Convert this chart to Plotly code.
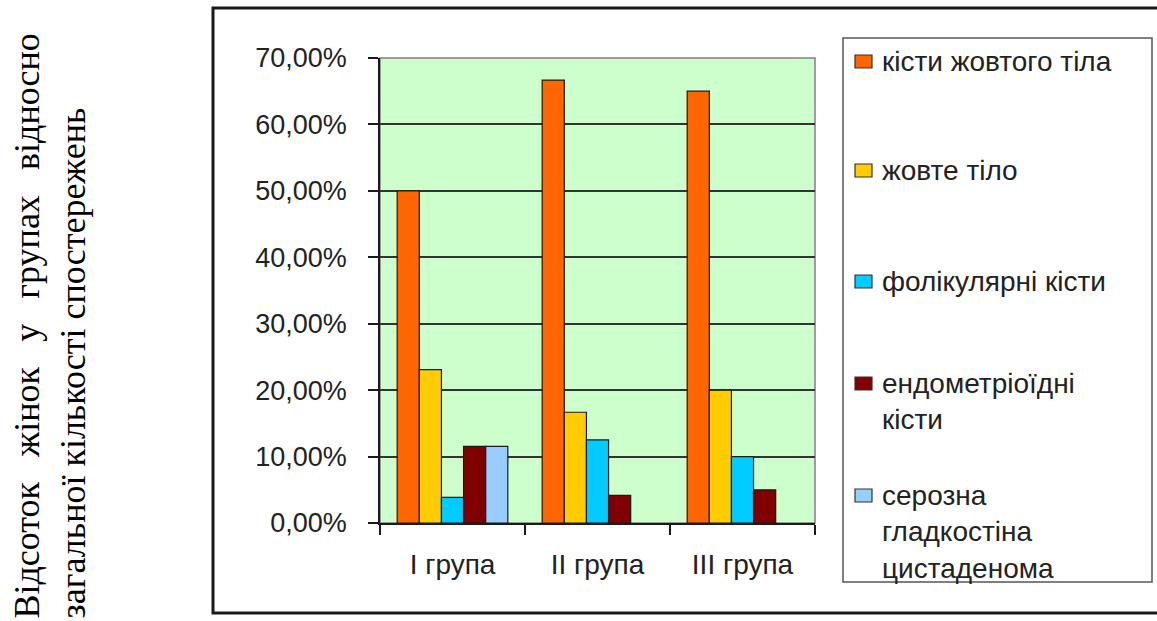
import plotly.graph_objects as go

# Groups on the category axis
groups = ["I група", "II група", "III група"]

# Series names (legend text) and bar colours
series_names = [
    "кісти жовтого тіла",
    "жовте тіло",
    "фолікулярні кісти",
    "ендометріоїдні<br>кісти",
    "серозна<br>гладкостіна<br>цистаденома",
]
series_colors = ["#FF6600", "#FFCC00", "#00CCFF", "#800000", "#99CCFF"]

# Share of women in each group (fractions), one list per series
corpus_luteum_cysts = [0.5000, 0.6667, 0.6500]
corpus_luteum = [0.2308, 0.1667, 0.2000]
follicular_cysts = [0.0385, 0.1250, 0.1000]
endometrioid_cysts = [0.1154, 0.0417, 0.0500]
serous_cystadenoma = [0.1154, None, None]

series_values = [
    corpus_luteum_cysts,
    corpus_luteum,
    follicular_cysts,
    endometrioid_cysts,
    serous_cystadenoma,
]

y_ticks = [0, 0.1, 0.2, 0.3, 0.4, 0.5, 0.6, 0.7]

W, H = 1157, 621
L, R, T, B = 380, 815, 58, 523  # plot-area edges in pixels


def px(x):
    return (x - L) / (R - L)


def py(y):
    return (B - y) / (B - T)


fig = go.Figure()
for name, color, vals in zip(series_names, series_colors, series_values):
    fig.add_trace(
        go.Bar(
            x=groups,
            y=vals,
            name=name.replace("<br>", " "),
            marker=dict(color=color, line=dict(color="#1a1a1a", width=1.2)),
            showlegend=False,
        )
    )

sans = "Arial, Liberation Sans, sans-serif"

shapes = [
    # outer chart frame (right side runs past the page edge)
    dict(type="rect", xref="paper", yref="paper",
         x0=px(213), x1=px(1162), y0=py(613), y1=py(8),
         line=dict(color="#1a1a1a", width=3), layer="above"),
    # plot-area border
    dict(type="rect", xref="paper", yref="paper",
         x0=0, x1=1, y0=0, y1=1,
         line=dict(color="#808080", width=1.5), layer="below"),
    # legend box
    dict(type="rect", xref="paper", yref="paper",
         x0=px(843), x1=px(1152), y0=py(582), y1=py(38),
         line=dict(color="#555555", width=1.5), layer="above"),
]

annotations = []
legend_rows = [63, 172, 283, 385, 497]
for name, color, row in zip(series_names, series_colors, legend_rows):
    shapes.append(dict(type="rect", xref="paper", yref="paper",
                       x0=px(855), x1=px(872), y0=py(row + 5), y1=py(row - 8),
                       fillcolor=color, line=dict(color="#333333", width=1.2),
                       layer="above"))
    annotations.append(dict(
        text=name, xref="paper", yref="paper",
        x=px(880), y=py(row - 19), xanchor="left", yanchor="top",
        align="left", showarrow=False,
        font=dict(family=sans, size=28, color="#222222"),
    ))

# rotated axis title, two lines
gap = "\u00a0\u2009 "
annotations.append(dict(
    text=gap.join(["Відсоток", "жінок", "у", "групах", "відносно"]) + "<br>"
         "загальної кількості спостережень",
    xref="paper", yref="paper", x=px(50), y=py(621),
    xanchor="center", yanchor="bottom", textangle=-90, align="left",
    showarrow=False,
    font=dict(family="Liberation Serif, Times New Roman, serif", size=36,
              color="#000000"),
))

fig.update_layout(
    width=W, height=H, autosize=False,
    margin=dict(l=L, r=W - R, t=T, b=H - B, pad=0),
    paper_bgcolor="white",
    plot_bgcolor="#CCFFCC",
    barmode="group",
    bargap=0.237,
    bargroupgap=0,
    separators=", ",
    showlegend=False,
    shapes=shapes,
    annotations=annotations,
    xaxis=dict(
        showline=True, linecolor="#1a1a1a", linewidth=1.5,
        ticks="outside", tickson="boundaries", ticklen=10,
        tickcolor="#1a1a1a", tickwidth=1.5,
        showgrid=False,
        tickfont=dict(family=sans, size=28, color="#222222"),
        ticklabelstandoff=16,
    ),
    yaxis=dict(
        range=[0, 0.7], tickvals=y_ticks, tickformat=".2%",
        showline=True, linecolor="#1a1a1a", linewidth=1.5,
        ticks="outside", ticklen=10, tickcolor="#1a1a1a", tickwidth=1.5,
        showgrid=True, gridcolor="#333333", gridwidth=1.5,
        zeroline=False,
        tickfont=dict(family=sans, size=27, color="#222222"),
        ticklabelstandoff=16,
    ),
)

fig.write_html("out.html", config={"displayModeBar": False})
